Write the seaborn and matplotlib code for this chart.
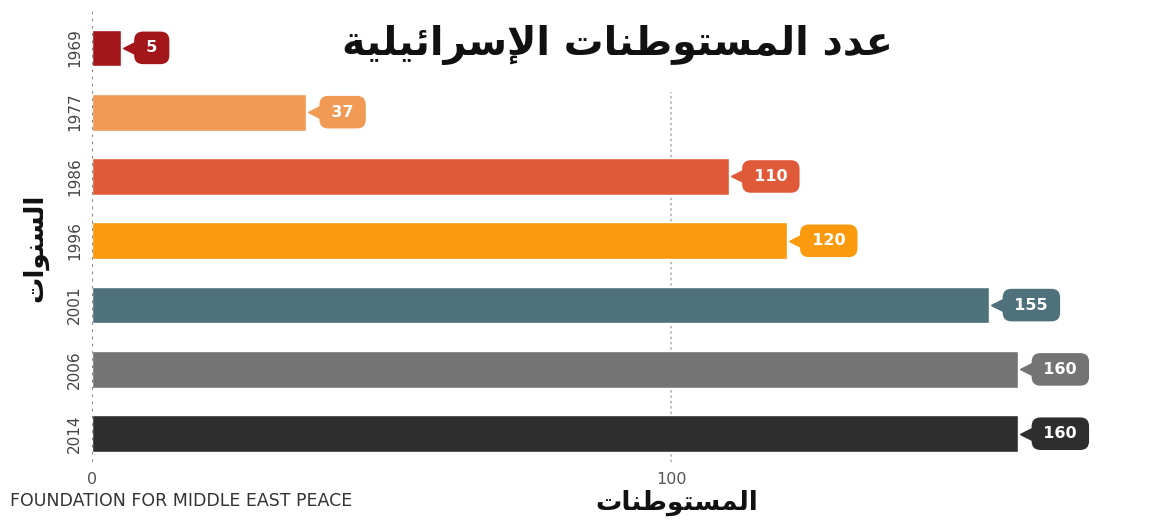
import matplotlib
matplotlib.use("Agg")
import matplotlib.pyplot as plt
import matplotlib.transforms as mtransforms
import seaborn as sns
import pandas as pd

# ---------------- data ----------------
years = ["1969", "1977", "1986", "1996", "2001", "2006", "2014"]
settlements = [5, 37, 110, 120, 155, 160, 160]
bar_colors = ["#a3161a", "#f09a55", "#e05a3a", "#fb9a0c", "#4e717b", "#747474", "#2e2e2e"]
x_ticks = [0, 100]
title_text = "عدد المستوطنات الإسرائيلية"
xlabel_text = "المستوطنات"
ylabel_text = "السنوات"
source_text = "FOUNDATION FOR MIDDLE EAST PEACE"

# ---------------- minimal Arabic shaping (presentation forms) ----------------
FORMS = {
    'ا': (0xFE8D, 0xFE8E, None, None),
    'إ': (0xFE87, 0xFE88, None, None),
    'ة': (0xFE93, 0xFE94, None, None),
    'ت': (0xFE95, 0xFE96, 0xFE97, 0xFE98),
    'د': (0xFEA9, 0xFEAA, None, None),
    'ر': (0xFEAD, 0xFEAE, None, None),
    'س': (0xFEB1, 0xFEB2, 0xFEB3, 0xFEB4),
    'ط': (0xFEC1, 0xFEC2, 0xFEC3, 0xFEC4),
    'ع': (0xFEC9, 0xFECA, 0xFECB, 0xFECC),
    'ل': (0xFEDD, 0xFEDE, 0xFEDF, 0xFEE0),
    'م': (0xFEE1, 0xFEE2, 0xFEE3, 0xFEE4),
    'ن': (0xFEE5, 0xFEE6, 0xFEE7, 0xFEE8),
    'و': (0xFEED, 0xFEEE, None, None),
    'ي': (0xFEF1, 0xFEF2, 0xFEF3, 0xFEF4),
    'ئ': (0xFE89, 0xFE8A, 0xFE8B, 0xFE8C),
}
LAMALEF = {'ا': (0xFEFB, 0xFEFC), 'إ': (0xFEF9, 0xFEFA)}


def shape_word(word):
    toks = []
    i = 0
    while i < len(word):
        c = word[i]
        if c == 'ل' and i + 1 < len(word) and word[i + 1] in LAMALEF:
            toks.append(('LA', word[i + 1]))
            i += 2
        else:
            toks.append(('C', c))
            i += 1

    def dual(t):
        return t[0] == 'C' and t[1] in FORMS and FORMS[t[1]][2] is not None

    out = []
    for k, t in enumerate(toks):
        prev = k > 0 and dual(toks[k - 1])
        if t[0] == 'LA':
            iso, fin = LAMALEF[t[1]]
            out.append(chr(fin if prev else iso))
            continue
        c = t[1]
        if c not in FORMS:
            out.append(c)
            continue
        iso, fin, ini, med = FORMS[c]
        nxt = dual(t) and k + 1 < len(toks)
        if prev and nxt:
            out.append(chr(med))
        elif prev:
            out.append(chr(fin))
        elif nxt:
            out.append(chr(ini))
        else:
            out.append(chr(iso))
    return "".join(out)


def ar(text):
    shaped = " ".join(shape_word(w) for w in text.split(" "))
    return shaped[::-1]


# ---------------- plot ----------------
sns.set_style("white")
plt.rcParams["font.family"] = ["DejaVu Sans"]

W, H = 1149, 521
fig = plt.figure(figsize=(W / 100, H / 100), dpi=100)
ax_top, ax_bot = 8, 462
ax = fig.add_axes([92 / W, 1 - ax_bot / H, (1140 - 92) / W, (ax_bot - ax_top) / H])

df = pd.DataFrame({"year": years, "value": settlements})
sns.barplot(data=df, x="value", y="year", hue="year", orient="h",
            palette=dict(zip(years, bar_colors)), order=years,
            width=0.57, legend=False, ax=ax, saturation=1, zorder=3)

ax.set_xlim(0, 181)
ax.set_ylim(6.44, -0.62)
for s in ax.spines.values():
    s.set_visible(False)

# dotted reference lines
ax.axvline(x_ticks[0], color="#777777", lw=1.3, ls=(0, (1.5, 2.5)), zorder=4)
ax.axvline(x_ticks[1], ymax=(ax_bot - 92) / (ax_bot - ax_top),
           color="#aaaaaa", lw=1.1, ls=(0, (1.5, 2.0)), zorder=1)

ax.set_xticks(x_ticks)
ax.set_xticklabels([str(t) for t in x_ticks], color="#555555", fontsize=11.5)
ax.tick_params(axis="x", length=0, pad=7)

ax.set_yticks(range(len(years)))
ax.set_yticklabels(years, rotation=90, va="center", color="#444444", fontsize=11)
ax.tick_params(axis="y", length=0, pad=7)
ax.set_xlabel("")
ax.set_ylabel("")

# callout labels
for i, (v, c) in enumerate(zip(settlements, bar_colors)):
    tri_tr = mtransforms.offset_copy(ax.transData, fig=fig, x=10, y=0, units="dots")
    ax.plot([v], [i], marker="<", ms=11, color=c, mec=c, transform=tri_tr,
            zorder=5, clip_on=False)
    ax.annotate("\u2009" + str(v) + "\u2009", xy=(v, i), xytext=(22 / 1.389, 0),
                textcoords="offset points",
                ha="left", va="center", color="white", fontsize=11.5, fontweight="bold",
                bbox=dict(boxstyle="round,pad=0.55,rounding_size=0.55", fc=c, ec="none"),
                zorder=6, annotation_clip=False)

# title and axis labels
fig.text(617 / W, 1 - 45 / H, ar(title_text), ha="center", va="center",
         fontsize=28.5, fontweight="bold", color="#111111", zorder=10)
fig.text(677 / W, 1 - 503 / H, ar(xlabel_text), ha="center", va="center",
         fontsize=19, fontweight="bold", color="#111111")
fig.text(35 / W, 1 - 248 / H, ar(ylabel_text), ha="center", va="center",
         rotation=90, fontsize=19, fontweight="bold", color="#111111")
fig.text(10 / W, 1 - 501 / H, source_text, ha="left", va="center",
         fontsize=12.5, color="#333333")

fig.savefig("out.png", dpi=100, facecolor="white")
